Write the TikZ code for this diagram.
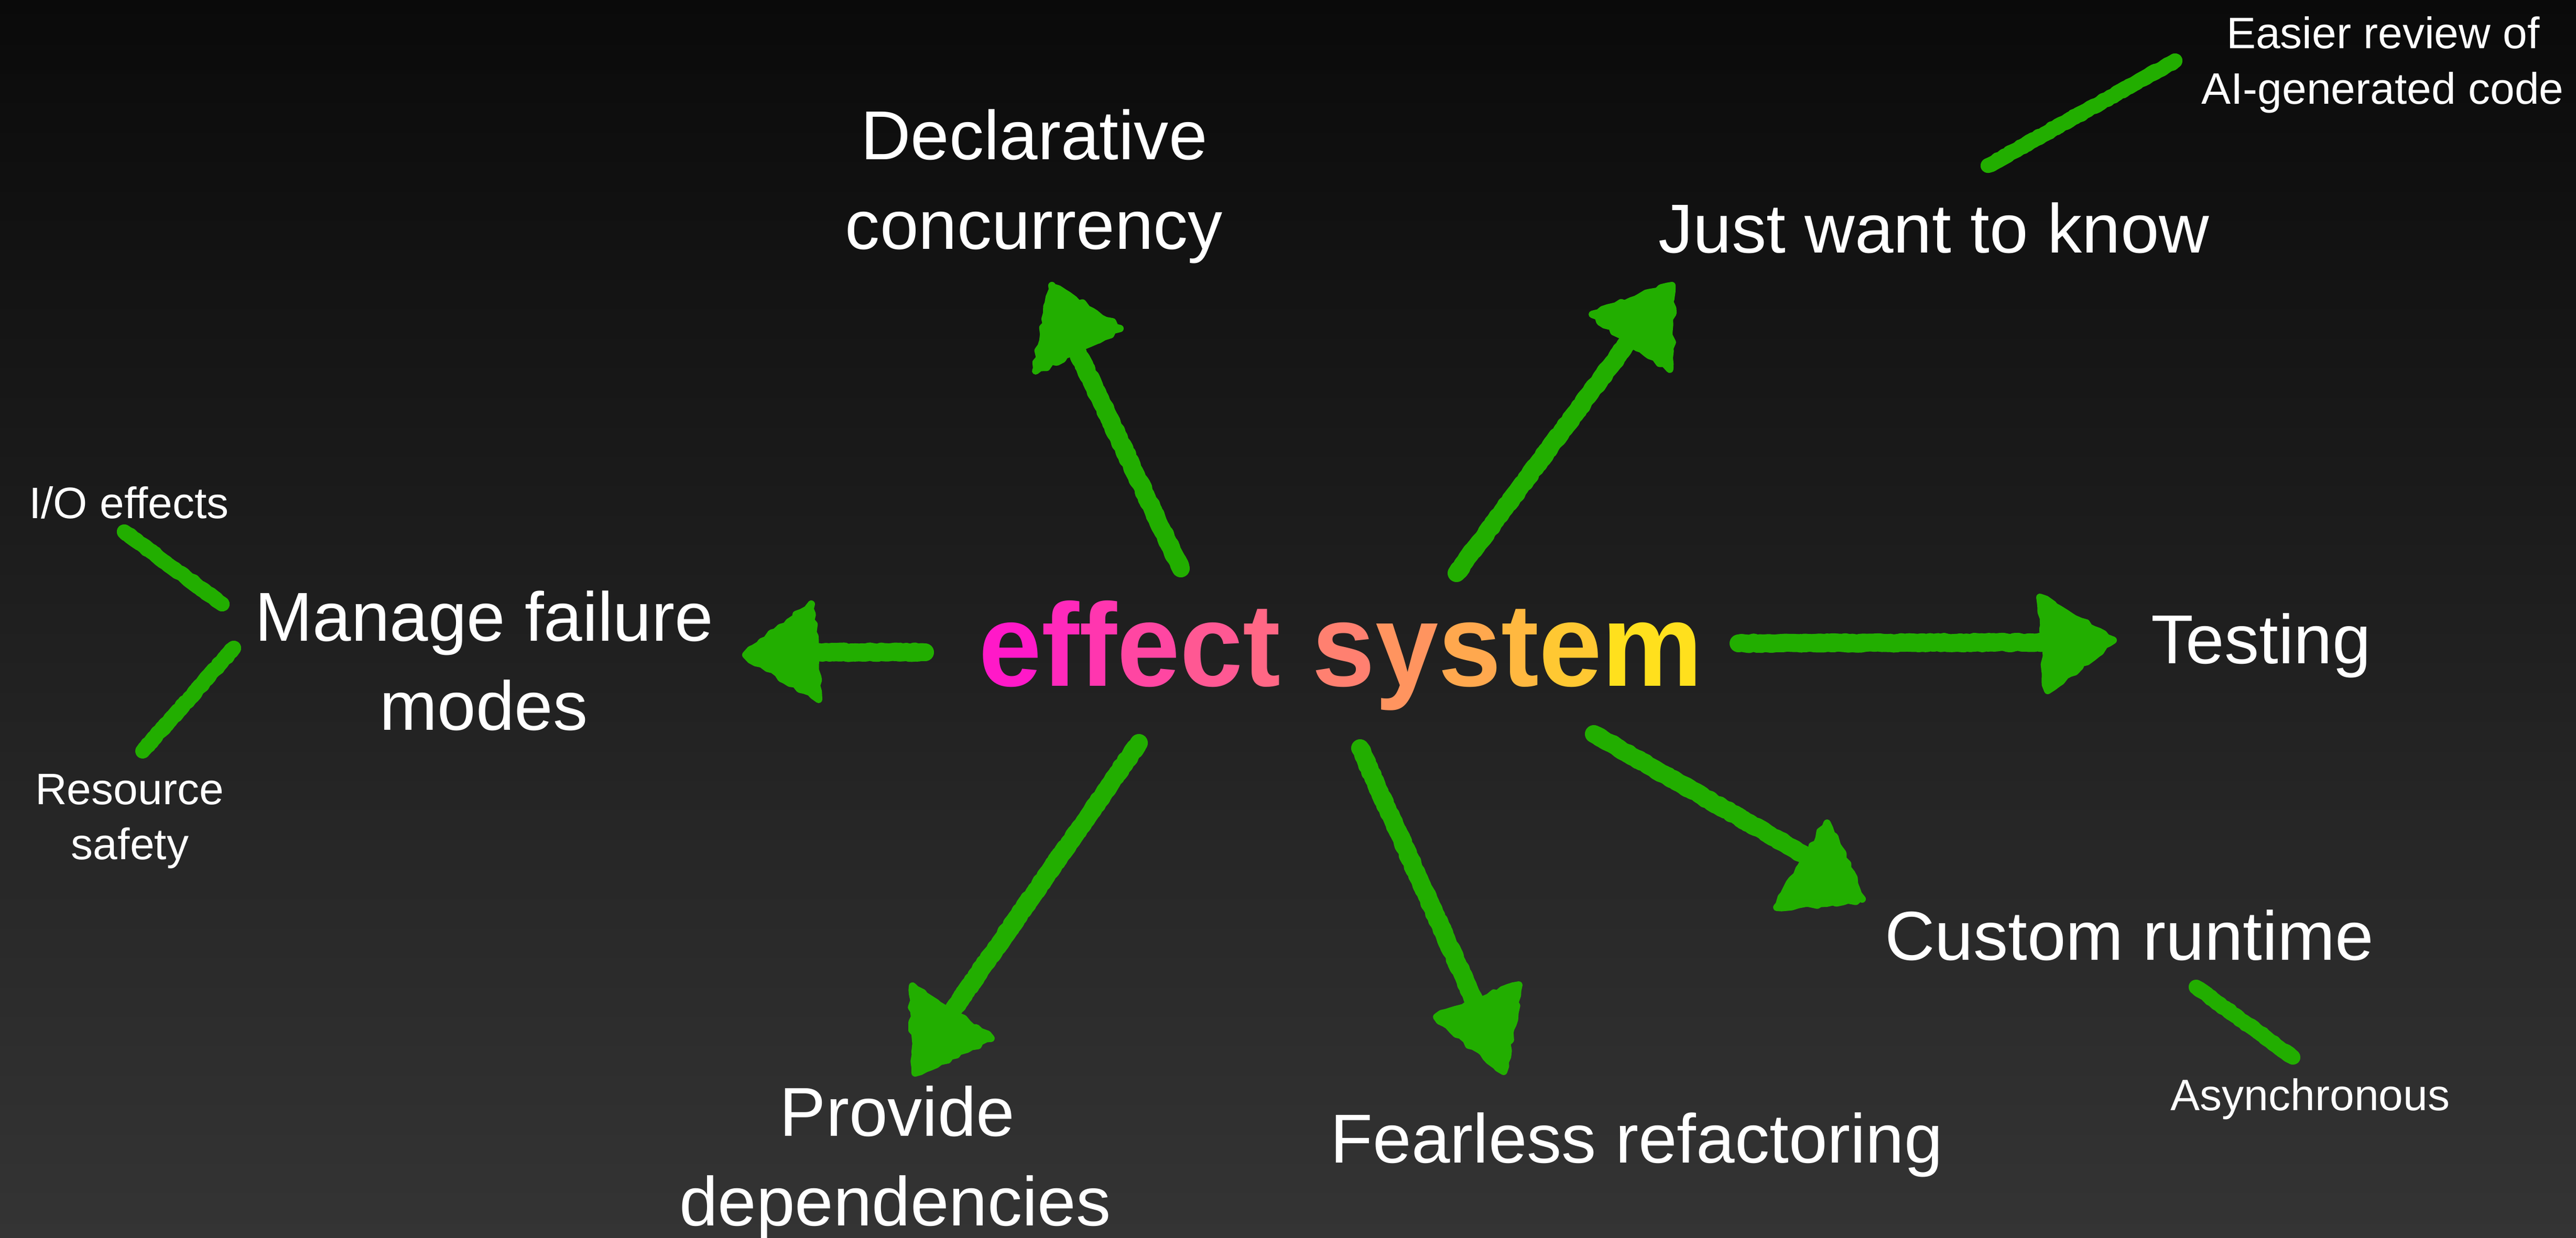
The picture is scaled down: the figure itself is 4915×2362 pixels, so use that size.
\documentclass[tikz,border=0pt]{standalone}
\usepackage{fontspec}
\usepackage{graphicx}
\setmainfont{Liberation Sans}
\usetikzlibrary{decorations.pathmorphing}
\definecolor{bgtop}{RGB}{10,10,10}
\definecolor{bgbot}{RGB}{52,52,52}
\definecolor{chalk}{RGB}{34,174,0}
\definecolor{mag}{RGB}{255,16,208}
\definecolor{yel}{RGB}{255,240,16}
\newcommand\chalkarrow[5]{%
  \draw[shaftcore] (#1) -- (#2);
  \draw[shaft] (#1) -- (#2);
  \draw[shaft] (#1) -- (#2);
  \path[headfill] (#3) -- (#4) -- (#5) -- cycle;}
\newcommand\chalkline[2]{%
  \draw[strokecore] (#1) -- (#2);
  \draw[stroke] (#1) -- (#2);
  \draw[stroke] (#1) -- (#2);}
\newcommand\gl[2]{\textcolor{yel!#1!mag}{#2}}
\begin{document}
\begin{tikzpicture}[x=0.01cm,y=-0.01cm,
  lbl/.style={text=white, inner sep=0pt, anchor=base, font=\fontsize{37.6pt}{45pt}\selectfont},
  small/.style={text=white, inner sep=0pt, anchor=base, font=\fontsize{23.9pt}{29pt}\selectfont},
  title/.style={inner sep=0pt, anchor=base, font=\fontsize{64pt}{70pt}\selectfont\bfseries},
  shaftcore/.style={draw=chalk, line width=9pt, line cap=round},
  shaft/.style={draw=chalk, line width=9.6pt, line cap=round, line join=round, decorate, decoration={random steps, segment length=2pt, amplitude=0.5pt}},
  strokecore/.style={draw=chalk, line width=7.5pt, line cap=round},
  stroke/.style={draw=chalk, line width=8pt, line cap=round, line join=round, decorate, decoration={random steps, segment length=2pt, amplitude=0.5pt}},
  headfill/.style={fill=chalk, draw=chalk, line width=4pt, line join=round, decorate, decoration={random steps, segment length=3pt, amplitude=1pt}}]
\pgfmathsetseed{7}
\useasboundingbox (0,0) rectangle (4915,2362);
\shade[top color=bgtop, bottom color=bgbot] (0,0) rectangle (4915,2362);

% texts
\node[title] (es) at (2558,1309) {\scalebox{0.96}[1]{\gl{4}{e}\gl{11}{f}\gl{17}{f}\gl{24}{e}\gl{32}{c}\gl{39}{t} \gl{50}{s}\gl{59}{y}\gl{68}{s}\gl{75}{t}\gl{82}{e}\gl{93}{m}}};
\node[lbl] (decl1) at (1973,304) {Declarative};
\node[lbl] (decl2) at (1973,475) {concurrency};
\node[lbl] (know) at (3690,482) {Just want to know};
\node[small] (ai1) at (4547,92) {Easier review of};
\node[small] (ai2) at (4546,198) {AI-generated code};
\node[lbl] (fail1) at (924,1223) {Manage failure};
\node[lbl] (fail2) at (923,1393) {modes};
\node[small] (io) at (246,989) {I/O effects};
\node[small] (res1) at (247,1535) {Resource};
\node[small] (res2) at (248,1640) {safety};
\node[lbl] (test) at (4314,1266) {Testing};
\node[lbl] (rt) at (4063,1832) {Custom runtime};
\node[small] (async) at (4408,2119) {Asynchronous};
\node[lbl] (dep1) at (1712,2168) {Provide};
\node[lbl] (dep2) at (1708,2339) {dependencies};
\node[lbl] (fear) at (3123,2219) {Fearless refactoring};

% arrow coordinates
\coordinate (dT) at (2253,1085); \coordinate (dJ) at (2056,672);
\coordinate (dP) at (2007,545); \coordinate (dB1) at (1976,708); \coordinate (dB2) at (2137,627);
\coordinate (kT) at (2779,1094); \coordinate (kJ) at (3105,655);
\coordinate (kP) at (3190,545); \coordinate (kB1) at (3038,600); \coordinate (kB2) at (3186,705);
\coordinate (mT) at (1765,1245); \coordinate (mJ) at (1550,1245);
\coordinate (mP) at (1423,1250); \coordinate (mB1) at (1548,1153); \coordinate (mB2) at (1562,1335);
\coordinate (tT) at (3317,1228); \coordinate (tJ) at (3900,1226);
\coordinate (tP) at (4032,1222); \coordinate (tB1) at (3892,1140); \coordinate (tB2) at (3907,1318);
\coordinate (cT) at (3041,1401); \coordinate (cJ) at (3440,1630);
\coordinate (cP) at (3486,1571); \coordinate (cB1) at (3390,1732); \coordinate (cB2) at (3553,1716);
\coordinate (pT) at (2173,1418); \coordinate (pJ) at (1820,1925);
\coordinate (pP) at (1746,2048); \coordinate (pB1) at (1741,1882); \coordinate (pB2) at (1891,1982);
\coordinate (fT) at (2595,1428); \coordinate (fJ) at (2815,1915);
\coordinate (fP) at (2869,2045); \coordinate (fB1) at (2741,1941); \coordinate (fB2) at (2898,1880);
\coordinate (ioA) at (237,1015); \coordinate (ioB) at (424,1153);
\coordinate (rsA) at (446,1237); \coordinate (rsB) at (272,1434);
\coordinate (aiA) at (3793,316); \coordinate (aiB) at (4150,116);
\coordinate (asA) at (4190,1884); \coordinate (asB) at (4375,2018);

\chalkarrow{dT}{dJ}{dP}{dB1}{dB2}
\chalkarrow{kT}{kJ}{kP}{kB1}{kB2}
\chalkarrow{mT}{mJ}{mP}{mB1}{mB2}
\chalkarrow{tT}{tJ}{tP}{tB1}{tB2}
\chalkarrow{cT}{cJ}{cP}{cB1}{cB2}
\chalkarrow{pT}{pJ}{pP}{pB1}{pB2}
\chalkarrow{fT}{fJ}{fP}{fB1}{fB2}
\chalkline{ioA}{ioB}
\chalkline{rsA}{rsB}
\chalkline{aiA}{aiB}
\chalkline{asA}{asB}
\end{tikzpicture}
\end{document}
